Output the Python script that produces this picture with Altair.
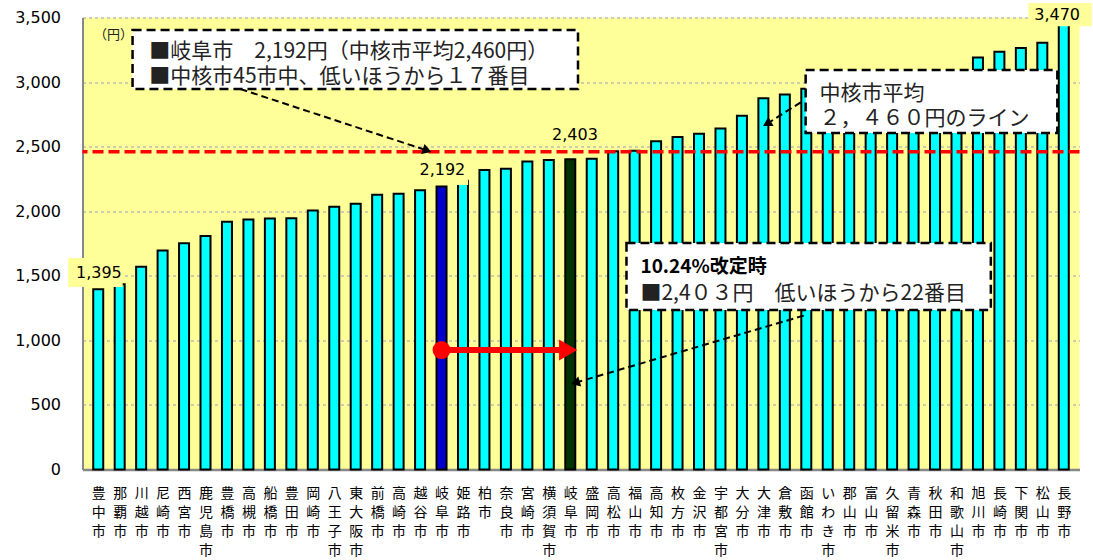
import json
import altair as alt
import pandas as pd

# ---------------- data ----------------
cities = ["豊中市", "那覇市", "川越市", "尼崎市", "西宮市", "鹿児島市", "豊橋市", "高槻市",
          "船橋市", "豊田市", "岡崎市", "八王子市", "東大阪市", "前橋市", "高崎市", "越谷市",
          "岐阜市", "姫路市", "柏市", "奈良市", "宮崎市", "横須賀市", "岐阜市", "盛岡市",
          "高松市", "福山市", "高知市", "枚方市", "金沢市", "宇都宮市", "大分市", "大津市",
          "倉敷市", "函館市", "いわき市", "郡山市", "富山市", "久留米市", "青森市", "秋田市",
          "和歌山市", "旭川市", "長崎市", "下関市", "松山市", "長野市"]
values = [1395, 1435, 1570, 1695, 1752, 1809, 1918, 1936, 1943, 1945, 2005, 2034,
          2057, 2127, 2135, 2163, 2192, 2235, 2320, 2328, 2385, 2397, 2403, 2407,
          2465, 2468, 2541, 2574, 2600, 2640, 2740, 2875, 2903, 2949, 2960, 2975,
          2995, 3015, 3040, 3060, 3085, 3191, 3235, 3263, 3304, 3470]
kinds = ["normal"] * len(cities)
kinds[16] = "gifu"
kinds[22] = "gifu_new"
y_ticks = [0, 500, 1000, 1500, 2000, 2500, 3000, 3500]
average = 2460

bar_labels = ["1,395", "2,192", "2,403", "3,470"]
bar_label_x = [0.03, 16.04, 22.22, 44.69]
bar_label_y = [1521, 2319, 2590, 3519]

# yellow background boxes behind some value labels
lblbox_x0 = [-1.40, 14.95, 43.35]
lblbox_x1 = [1.14, 17.24, 46.3]
lblbox_y0 = [1413, 2203, 3433]
lblbox_y1 = [1638, 2396, 3612]

# annotation boxes (dashed)
box_x0 = [1.60, 32.97, 24.62]
box_x1 = [22.36, 44.70, 41.60]
box_y0 = [2946, 2605, 1235]
box_y1 = [3403, 3093, 1754]

box_text = ["■岐阜市　2,192円（中核市平均2,460円）", "■中核市45市中、低いほうから１７番目",
            "中核市平均", "２，４６０円のライン", "■2,4０３円　低いほうから22番目"]
box_text_x = [2.38, 2.38, 33.61, 33.61, 25.27]
box_text_y = [3232, 3036, 2908, 2714, 1362]

bold_text = ["10.24%改定時"]
bold_text_x = [25.27]
bold_text_y = [1565]

unit_text = ["（円）"]
unit_x = [-0.2]
unit_y = [3364]

# dashed black arrows: start -> head
arrow_x0 = [6.63, 32.88, 32.97]
arrow_y0 = [2946, 2858, 1196]
arrow_x1 = [15.33, 31.17, 22.24]
arrow_y1 = [2470, 2677, 672]
arrow_ang = [108.6, 240.0, 253.8]

# red arrow
red_x0 = [16.0]
red_x1 = [21.5]
red_head_x = [21.9]
red_y = [925]

# ---------------- tables ----------------
df = pd.DataFrame({"idx": list(range(len(cities))), "city": cities, "value": values, "kind": kinds})
df_lab = pd.DataFrame({"x": bar_label_x, "y": bar_label_y, "t": bar_labels})
df_lbox = pd.DataFrame({"x0": lblbox_x0, "x1": lblbox_x1, "y0": lblbox_y0, "y1": lblbox_y1})
df_box = pd.DataFrame({"x0": box_x0, "x1": box_x1, "y0": box_y0, "y1": box_y1})
df_btxt = pd.DataFrame({"x": box_text_x, "y": box_text_y, "t": box_text})
df_bold = pd.DataFrame({"x": bold_text_x, "y": bold_text_y, "t": bold_text})
df_unit = pd.DataFrame({"x": unit_x, "y": unit_y, "t": unit_text})
rows = []
for i in range(len(arrow_x0)):
    rows.append({"id": i, "x": arrow_x0[i], "y": arrow_y0[i]})
    rows.append({"id": i, "x": arrow_x1[i], "y": arrow_y1[i]})
df_arr = pd.DataFrame(rows)
df_head = pd.DataFrame({"x": arrow_x1, "y": arrow_y1, "ang": arrow_ang})
df_red = pd.DataFrame({"x0": red_x0, "x1": red_x1, "y": red_y})
df_redhead = pd.DataFrame({"x": red_head_x, "y": red_y})
df_avg = pd.DataFrame({"v": [average]})

XS = alt.Scale(domain=[-0.5, len(cities) - 0.5], nice=False, zero=False)
YS = alt.Scale(domain=[0, 3500], nice=False)

label_expr = "split(" + json.dumps(cities, ensure_ascii=False) + "[round(datum.value)], '')"

x_axis = alt.Axis(values=list(range(len(cities))), labelExpr=label_expr, title=None, grid=False,
                  ticks=False, tickSize=0, labelPadding=17, labelFont="Noto Sans CJK JP",
                  labelFontSize=14, labelLineHeight=19, labelBaseline="top", labelOverlap=False,
                  labelFlush=False, labelBound=False, labelColor="#000000",
                  domainColor="#888888", domainWidth=2.5)
y_axis = alt.Axis(values=y_ticks, labelExpr="format(datum.value, ',.0f')", title=None, grid=True,
                  gridDash=[3, 3], gridColor="#9c9cc0", gridWidth=1, ticks=False, tickSize=0,
                  labelPadding=22, labelFont="DejaVu Sans", labelFontSize=16,
                  labelColor="#000000", domainColor="#888888", domainWidth=2)


def X(f):
    return alt.X(f, scale=XS, axis=x_axis)


def Y(f):
    return alt.Y(f, scale=YS, axis=y_axis)


bars = alt.Chart(df).mark_bar(size=10, stroke="black", strokeWidth=2).encode(
    x=X("idx:Q"),
    y=Y("value:Q"),
    color=alt.Color("kind:N", scale=alt.Scale(domain=["normal", "gifu", "gifu_new"],
                                              range=["#00FFFF", "#0000CC", "#003300"]), legend=None),
)

avg_line = alt.Chart(df_avg).mark_rule(color="#FF0000", strokeWidth=3.5, strokeDash=[11, 5]).encode(
    y=Y("v:Q"))

lbox = alt.Chart(df_lbox).mark_rect(fill="#FFFF99").encode(
    x=X("x0:Q"), x2="x1", y=Y("y0:Q"), y2="y1")

labels = alt.Chart(df_lab).mark_text(font="DejaVu Sans", fontSize=16, color="#000000",
                                     baseline="middle", align="center").encode(
    x=X("x:Q"), y=Y("y:Q"), text="t:N")

boxes = alt.Chart(df_box).mark_rect(fill="white", stroke="black", strokeWidth=2.5,
                                    strokeDash=[9, 5]).encode(
    x=X("x0:Q"), x2="x1", y=Y("y0:Q"), y2="y1")

btxt = alt.Chart(df_btxt).mark_text(font="Noto Sans CJK JP", fontSize=21, color="#222222",
                                    align="left", baseline="middle").encode(
    x=X("x:Q"), y=Y("y:Q"), text="t:N")

bold = alt.Chart(df_bold).mark_text(font="Noto Sans CJK JP", fontSize=19, fontWeight="bold",
                                    color="#000000", align="left", baseline="middle").encode(
    x=X("x:Q"), y=Y("y:Q"), text="t:N")

unit = alt.Chart(df_unit).mark_text(font="Noto Sans CJK JP", fontSize=13, color="#222222",
                                    align="left", baseline="middle").encode(
    x=X("x:Q"), y=Y("y:Q"), text="t:N")

arrows = alt.Chart(df_arr).mark_line(color="black", strokeWidth=2, strokeDash=[7, 4]).encode(
    x=X("x:Q"), y=Y("y:Q"), detail="id:N")

heads = alt.Chart(df_head).mark_point(shape="triangle-up", filled=True, size=110, color="black",
                                      opacity=1).encode(
    x=X("x:Q"), y=Y("y:Q"), angle=alt.Angle("ang:Q", scale=None))

red_shaft = alt.Chart(df_red).mark_rule(color="#FF0000", strokeWidth=6).encode(
    x=X("x0:Q"), x2="x1", y=Y("y:Q"))
red_dot = alt.Chart(df_red).mark_point(shape="circle", filled=True, size=324, color="#FF0000",
                                       opacity=1).encode(x=X("x0:Q"), y=Y("y:Q"))
red_head = alt.Chart(df_redhead).mark_point(shape="triangle-right", filled=True, size=441,
                                            color="#FF0000", opacity=1).encode(
    x=X("x:Q"), y=Y("y:Q"))

chart = alt.layer(
    bars, avg_line, lbox, labels, boxes, btxt, bold, unit, arrows, heads,
    red_shaft, red_dot, red_head
).properties(
    width=997, height=452,
    padding={"left": 82.5, "top": 17.5, "right": 13.5, "bottom": 90.5},
    autosize=alt.AutoSizeParams(type="none"),
    background="white",
).configure_view(fill="#FFFF99", stroke=None)

chart.save("out.html", embed_options={"renderer": "svg", "actions": False})
